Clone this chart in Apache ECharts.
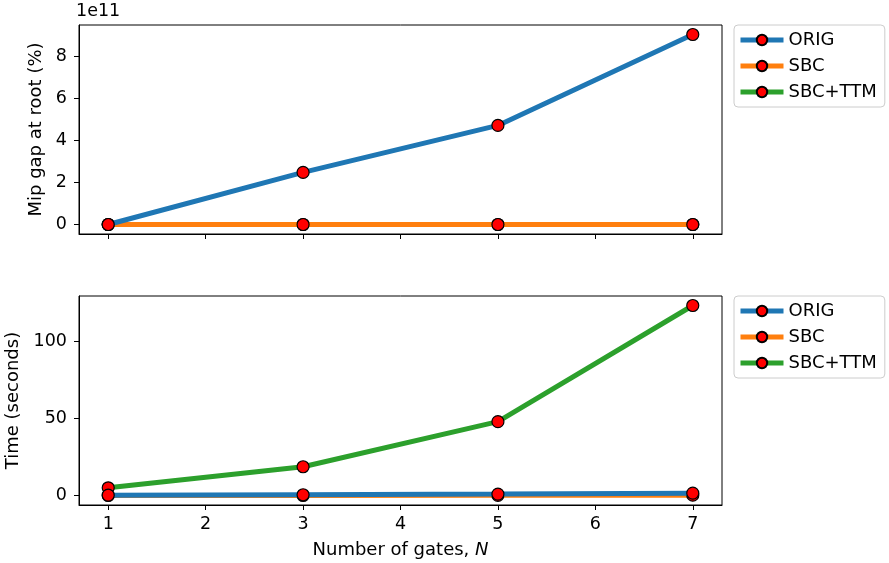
<!DOCTYPE html>
<html style="height: 100%; margin: 0; padding: 0;">
<head>
    <meta charset="utf-8">
    <title>Mip gap and time vs gates</title>
    <script src="https://cdn.jsdelivr.net/npm/echarts@6/dist/echarts.min.js"></script>
    <style>
        body, html {
            height: 100%;
            margin: 0;
            padding: 0;
            background-color: #ffffff;
        }
        #main {
            width: 889px;
            height: 563px;
        }
    </style>
</head>
<body>
<div id="main"></div>
<script type="text/javascript">
    // data
    var gates = [1, 3, 5, 7];
    var methods = ['ORIG', 'SBC', 'SBC+TTM'];
    var colors = ['#1f77b4', '#ff7f0e', '#2ca02c'];
    // mip gap at root (%), raw values (axis shows them in units of 1e11)
    var gapOrig = [0, 2.48e11, 4.72e11, 9.05e11];
    var gapSbc = [0, 0, 0, 0];
    var gapSbcTtm = [0, 0, 0, 0];
    // time in seconds
    var timeOrig = [0.2, 0.5, 0.9, 1.5];
    var timeSbc = [0, 0, 0.1, 0.2];
    var timeSbcTtm = [5, 18.6, 47.8, 123];
    var xTicks = [1, 2, 3, 4, 5, 6, 7];
    var gapTicks = [0, 2e11, 4e11, 6e11, 8e11];
    var timeTicks = [0, 50, 100];

    var FONT = 'DejaVu Sans';
    var FS = 18;      // titles, legend
    var TFS = 17.5;   // tick labels

    var myChart = echarts.init(document.getElementById('main'));

    function pairs(ys) {
        return gates.map(function (g, i) { return [g, ys[i]]; });
    }

    function makeSeries(name, idx, ys, axisIdx) {
        return {
            type: 'line',
            name: name,
            xAxisIndex: axisIdx,
            yAxisIndex: axisIdx,
            data: pairs(ys),
            symbol: 'circle',
            symbolSize: 12,
            showAllSymbol: true,
            // ORIG drawn on top, like the picture
            z: 10 - idx,
            lineStyle: { color: colors[idx], width: 5 },
            itemStyle: { color: '#ff0000', borderColor: '#000000', borderWidth: 1.2 },
            emphasis: { disabled: true },
            animation: false
        };
    }

    var axisLine = { show: true, onZero: false, lineStyle: { color: '#000', width: 1 } };
    var axisTickX = { show: true, inside: false, length: 5, lineStyle: { color: '#000' }, customValues: xTicks };

    function legendAt(top) {
        return {
            data: methods,
            orient: 'vertical',
            left: 734,
            top: top,
            itemWidth: 43,
            itemHeight: 13,
            itemGap: 8,
            padding: [6, 8, 6, 4],
            borderColor: '#cccccc',
            borderWidth: 1,
            borderRadius: 4,
            selectedMode: false,
            lineStyle: { width: 5 },
            textStyle: { fontFamily: FONT, fontSize: FS, color: '#000' }
        };
    }

    var gridBase = { left: 79, width: 643, height: 209, show: true, borderColor: '#000', borderWidth: 1,
        backgroundColor: 'transparent', containLabel: false, outerBoundsMode: 'none' };

    var option = {
        animation: false,
        textStyle: { fontFamily: FONT },
        grid: [
            Object.assign({ top: 25 }, gridBase),
            Object.assign({ top: 296 }, gridBase)
        ],
        legend: [legendAt(25), legendAt(296)],
        graphic: [{
            type: 'text',
            left: 76,
            top: 2,
            style: { text: '1e11', fontFamily: FONT, fontSize: TFS, fill: '#000' }
        }],
        xAxis: [
            {
                type: 'value', gridIndex: 0, min: 0.7, max: 7.3,
                axisLine: axisLine, axisTick: axisTickX,
                axisLabel: { show: false },
                splitLine: { show: false }
            },
            {
                type: 'value', gridIndex: 1, min: 0.7, max: 7.3,
                axisLine: axisLine, axisTick: axisTickX,
                axisLabel: { show: true, customValues: xTicks, margin: 10, fontFamily: FONT, fontSize: TFS, color: '#000' },
                splitLine: { show: false },
                name: 'Number of gates, {i|N}',
                nameLocation: 'middle',
                nameGap: 36,
                nameTextStyle: {
                    fontFamily: FONT, fontSize: FS, color: '#000',
                    rich: { i: { fontFamily: FONT, fontSize: FS, fontStyle: 'italic', color: '#000' } }
                }
            }
        ],
        yAxis: [
            {
                type: 'value', gridIndex: 0, min: -0.4525e11, max: 9.5025e11,
                axisLine: axisLine,
                axisTick: { show: true, inside: false, length: 5, lineStyle: { color: '#000' }, customValues: gapTicks },
                axisLabel: {
                    show: true, customValues: gapTicks, margin: 12, fontFamily: FONT, fontSize: TFS, color: '#000',
                    formatter: function (v) { return String(Math.round(v / 1e11)); }
                },
                splitLine: { show: false },
                name: 'Mip gap at root (%)',
                nameLocation: 'middle',
                nameGap: 33,
                nameTextStyle: { fontFamily: FONT, fontSize: FS, color: '#000' }
            },
            {
                type: 'value', gridIndex: 1, min: -6.15, max: 129.15,
                axisLine: axisLine,
                axisTick: { show: true, inside: false, length: 5, lineStyle: { color: '#000' }, customValues: timeTicks },
                axisLabel: { show: true, customValues: timeTicks, margin: 12, fontFamily: FONT, fontSize: TFS, color: '#000' },
                splitLine: { show: false },
                name: 'Time (seconds)',
                nameLocation: 'middle',
                nameGap: 55,
                nameTextStyle: { fontFamily: FONT, fontSize: FS, color: '#000' }
            }
        ],
        series: [
            makeSeries('ORIG', 0, gapOrig, 0),
            makeSeries('SBC', 1, gapSbc, 0),
            makeSeries('SBC+TTM', 2, gapSbcTtm, 0),
            makeSeries('ORIG', 0, timeOrig, 1),
            makeSeries('SBC', 1, timeSbc, 1),
            makeSeries('SBC+TTM', 2, timeSbcTtm, 1)
        ]
    };

    myChart.setOption(option);
</script>
</body>
</html>
